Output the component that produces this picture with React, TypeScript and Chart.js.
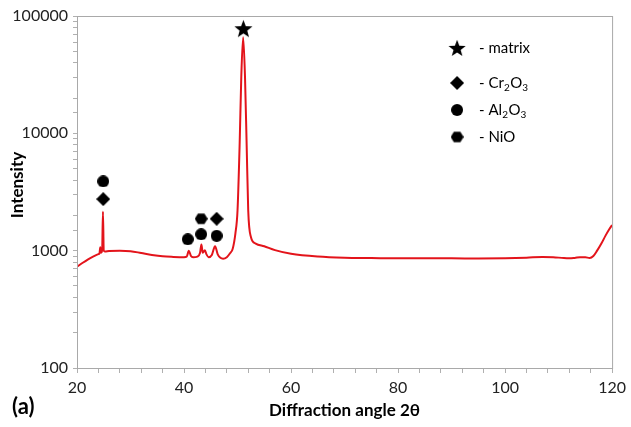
import React, { useEffect, useRef } from "react";
import { Chart, registerables } from "chart.js";
Chart.register(...registerables);

// XRD pattern (2θ in degrees, intensity in counts)
const angle = [20, 21, 22, 23, 24, 24.2, 24.35, 24.5, 24.7, 24.85, 25.0, 25.2, 26, 28, 30, 32, 34, 36, 38, 40, 40.5, 40.9, 41.3, 41.7, 42.5, 43.0, 43.25, 43.5, 43.9, 44.2, 44.6, 45.2, 45.8, 46.3, 46.8, 47.3, 48.0, 48.6, 49.1, 49.6, 50.0, 50.4, 50.7, 51.05, 51.4, 51.7, 52.0, 52.5, 53.4, 55, 57, 60, 65, 70, 75, 80, 85, 90, 95, 100, 104, 107, 109, 111, 112, 113, 114, 115, 115.8, 116.5, 117.2, 118, 118.8, 119.5, 120];
const intensity = [730, 785, 840, 890, 935, 950, 1070, 960, 1000, 2150, 1000, 985, 995, 1000, 990, 955, 920, 895, 885, 880, 890, 1000, 900, 880, 890, 960, 1130, 960, 1010, 930, 880, 920, 1090, 930, 870, 855, 880, 950, 1040, 1400, 2200, 8200, 30000, 66000, 30000, 8200, 2200, 1310, 1150, 1090, 1010, 940, 890, 870, 865, 860, 860, 860, 858, 860, 870, 885, 880, 865, 862, 868, 878, 880, 866, 900, 1000, 1150, 1350, 1530, 1650];

// phase markers
const matrixX = [51.1];
const matrixY = [78000];
const cr2o3X = [24.9, 46.1];
const cr2o3Y = [2750, 1870];
const al2o3X = [24.9, 40.7, 43.2, 46.1];
const al2o3Y = [3900, 1250, 1380, 1340];
const nioX = [43.2];
const nioY = [1870];

const xTickLabels = [20, 40, 60, 80, 100, 120];
const yTickLabels = [100, 1000, 10000, 100000];

const legendRows = [
  { shape: "star", parts: [["- matrix", false]] },
  { shape: "diamond", parts: [["- Cr", false], ["2", true], ["O", false], ["3", true]] },
  { shape: "circle", parts: [["- Al", false], ["2", true], ["O", false], ["3", true]] },
  { shape: "hexagon", parts: [["- NiO", false]] },
];

const FONT = "Lato, 'Open Sans', sans-serif";

function makeStar(size: number) {
  const c = document.createElement("canvas");
  c.width = size;
  c.height = size;
  const g = c.getContext("2d")!;
  const cx = size / 2, cy = size / 2 + size * 0.04;
  const R = size / 2, r = R * 0.42;
  g.beginPath();
  for (let i = 0; i < 10; i++) {
    const rad = -Math.PI / 2 + (i * Math.PI) / 5;
    const rr = i % 2 === 0 ? R : r;
    const px = cx + rr * Math.cos(rad), py = cy + rr * Math.sin(rad);
    if (i === 0) g.moveTo(px, py); else g.lineTo(px, py);
  }
  g.closePath();
  g.fillStyle = "#000";
  g.fill();
  return c;
}

function makeHex(size: number) {
  const c = document.createElement("canvas");
  c.width = size;
  c.height = size;
  const g = c.getContext("2d")!;
  const cx = size / 2, cy = size / 2, R = size / 2;
  g.beginPath();
  for (let i = 0; i < 6; i++) {
    const rad = (i * Math.PI) / 3;
    const px = cx + R * Math.cos(rad), py = cy + R * 0.92 * Math.sin(rad);
    if (i === 0) g.moveTo(px, py); else g.lineTo(px, py);
  }
  g.closePath();
  g.fillStyle = "#000";
  g.fill();
  return c;
}

function makeDiamond(size: number) {
  const c = document.createElement("canvas");
  c.width = size;
  c.height = size;
  const g = c.getContext("2d")!;
  const h = size / 2;
  g.beginPath();
  g.moveTo(h, 0);
  g.lineTo(size, h);
  g.lineTo(h, size);
  g.lineTo(0, h);
  g.closePath();
  g.fillStyle = "#000";
  g.fill();
  return c;
}

function makeCircle(size: number) {
  const c = document.createElement("canvas");
  c.width = size;
  c.height = size;
  const g = c.getContext("2d")!;
  g.beginPath();
  g.arc(size / 2, size / 2, size / 2, 0, Math.PI * 2);
  g.fillStyle = "#000";
  g.fill();
  return c;
}

export default function App() {
  const ref = useRef<HTMLCanvasElement | null>(null);

  useEffect(() => {
    if (!ref.current) return;
    const star = makeStar(19);
    const hex = makeHex(13);
    const diamond = makeDiamond(14);
    const circle = makeCircle(12);
    const legendStar = makeStar(18);
    const legendDiamond = makeDiamond(14);
    const legendCircle = makeCircle(12);
    const legendHex = makeHex(13);
    const shapes: any = { star: legendStar, diamond: legendDiamond, circle: legendCircle, hexagon: legendHex };

    const decor = {
      id: "decor",
      afterDraw(chart: any) {
        const { ctx, chartArea } = chart;
        ctx.save();
        // frame
        ctx.strokeStyle = "#a9a9a9";
        ctx.lineWidth = 1;
        ctx.strokeRect(chartArea.left + 0.5, chartArea.top + 0.5, chartArea.right - chartArea.left, chartArea.bottom - chartArea.top);

        // legend
        const sx = chartArea.right - 155;
        const tx = chartArea.right - 133;
        const rowY = [32, 67, 94, 121];
        legendRows.forEach((row, i) => {
          const y = chartArea.top + rowY[i];
          const img = shapes[row.shape];
          ctx.drawImage(img, sx - img.width / 2, y - img.height / 2);
          let x = tx;
          ctx.fillStyle = "#000";
          ctx.textBaseline = "middle";
          ctx.textAlign = "left";
          row.parts.forEach(([t, sub]: any) => {
            ctx.font = sub ? `10px ${FONT}` : `15px ${FONT}`;
            ctx.fillText(t, x, sub ? y + 5 : y);
            x += ctx.measureText(t).width + (sub ? 0.5 : 0);
          });
        });

        // axis titles
        ctx.fillStyle = "#000";
        ctx.font = `bold 17px ${FONT}`;
        ctx.textAlign = "center";
        ctx.textBaseline = "middle";
        ctx.fillText("Diffraction angle 2θ", (chartArea.left + chartArea.right) / 2, 411);
        ctx.save();
        ctx.translate(18, 185);
        ctx.rotate(-Math.PI / 2);
        ctx.fillText("Intensity", 0, 0);
        ctx.restore();
        ctx.font = `bold 22px ${FONT}`;
        ctx.textAlign = "left";
        ctx.fillText("(a)", 12, 407);
        ctx.restore();
      },
    };

    const pts = (xs: number[], ys: number[]) => xs.map((x, i) => ({ x, y: ys[i] }));

    const chart = new Chart(ref.current, {
      type: "line",
      data: {
        datasets: [
          {
            data: pts(angle, intensity),
            borderColor: "#e3141b",
            borderWidth: 2,
            pointRadius: 0,
            cubicInterpolationMode: "monotone",
            fill: false,
            order: 5,
          },
          { data: pts(matrixX, matrixY), showLine: false, pointStyle: star as any, pointRadius: 10 },
          { data: pts(cr2o3X, cr2o3Y), showLine: false, pointStyle: diamond as any, pointRadius: 7 },
          { data: pts(al2o3X, al2o3Y), showLine: false, pointStyle: circle as any, pointRadius: 6 },
          { data: pts(nioX, nioY), showLine: false, pointStyle: hex as any, pointRadius: 7 },
        ] as any,
      },
      options: {
        animation: false,
        responsive: false,
        maintainAspectRatio: false,
        layout: { padding: { top: 16, right: 16, left: 0, bottom: 0 } },
        plugins: { legend: { display: false }, tooltip: { enabled: false } },
        scales: {
          x: {
            type: "linear",
            min: 20,
            max: 120,
            border: { color: "#a9a9a9", width: 1 },
            grid: { drawOnChartArea: false, drawTicks: true, tickLength: 5, color: "#b0b0b0" },
            ticks: {
              stepSize: 4,
              autoSkip: false,
              maxRotation: 0,
              padding: 5,
              color: "#222",
              font: { family: FONT, size: 16 },
              callback: (v: any) => (xTickLabels.includes(Number(v)) ? String(v) : ""),
            },
            afterFit: (s: any) => {
              s.height = 59;
            },
          },
          y: {
            type: "logarithmic",
            min: 100,
            max: 100000,
            border: { color: "#a9a9a9", width: 1 },
            grid: { drawOnChartArea: false, drawTicks: true, tickLength: 4, color: "#b0b0b0" },
            ticks: {
              autoSkip: false,
              padding: 5,
              color: "#222",
              font: { family: FONT, size: 16 },
              callback: (v: any) => (yTickLabels.includes(Number(v)) ? String(v) : ""),
            },
            afterFit: (s: any) => {
              s.width = 77;
            },
          },
        },
      } as any,
      plugins: [decor],
    });
    return () => chart.destroy();
  }, []);

  return (
    <div style={{ position: "fixed", left: 0, top: 0, width: 631, height: 427, background: "#fff" }}>
      <canvas ref={ref} width={631} height={427} style={{ width: 631, height: 427, display: "block" }} />
    </div>
  );
}
